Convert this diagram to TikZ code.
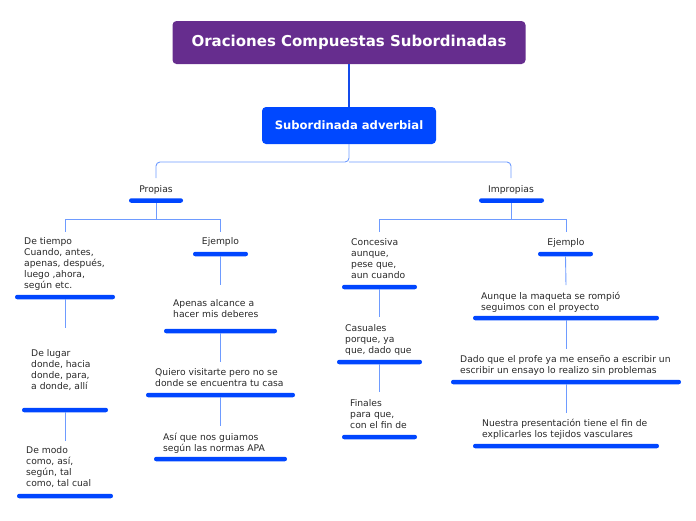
\documentclass[tikz,border=0pt]{standalone}
\usepackage{fontspec}
\setmainfont{DejaVu Sans}
\usepackage{tikz}

\definecolor{titlepurple}{RGB}{102,45,142}
\definecolor{subblue}{RGB}{0,72,255}
\definecolor{barblue}{RGB}{0,70,255}
\definecolor{linkblue}{RGB}{110,155,255}
\definecolor{mainblue}{RGB}{20,75,235}
\definecolor{txtgray}{RGB}{40,40,40}

\tikzset{
  leaf/.style={anchor=north west,inner sep=0,align=left,text=txtgray,font=\fontsize{9.2}{11}\selectfont},
  head/.style={anchor=north,inner sep=0,text=txtgray,font=\fontsize{9.2}{11}\selectfont},
  ulbar/.style={draw=none,fill=barblue,rounded corners=2.2pt,minimum height=4.5pt,inner sep=0},
  conn/.style={draw=linkblue,line width=0.9pt},
}

\begin{document}
\begin{tikzpicture}[x=1pt,y=-1pt]
\useasboundingbox (0,0) rectangle (696,520);

% top boxes
\node[fill=titlepurple,rounded corners=4pt,minimum width=353,minimum height=43,text=white,font=\fontsize{15}{18}\bfseries\selectfont] (title) at (349,42.5) {Oraciones Compuestas Subordinadas};
\node[fill=subblue,rounded corners=4pt,minimum width=174,minimum height=37,text=white,font=\fontsize{11.6}{14}\bfseries\selectfont] (sub) at (349,125.5) {Subordinada adverbial};
\draw[draw=mainblue,line width=1.2pt] (title) -- (sub);

\coordinate (subFork) at (349,162);
\coordinate (propIn) at (156,178);
\coordinate (impIn) at (511,178);
\draw[conn,rounded corners=4pt] (sub.south) -- (subFork) -| (propIn);
\draw[conn,rounded corners=4pt] (subFork) -| (impIn);

% Propias
\node[head] (prop) at (156,185) {Propias};
\node[ulbar,minimum width=54] (propBar) at (156,200.5) {};
\coordinate (propFork) at (156,219);
\coordinate (tiempoIn) at (65,232);
\coordinate (ejPropIn) at (220.5,232);
\draw[conn] (propBar.south) -- (propFork) -| (tiempoIn);
\draw[conn] (propFork) -| (ejPropIn);

\node[leaf] (tiempo) at (24,237.5) {De tiempo\\Cuando, antes,\\apenas, después,\\luego ,ahora,\\según etc.};
\node[ulbar,minimum width=100] (tiempoBar) at (65,297) {};
\coordinate (lugarIn) at (65,328);
\draw[conn] (tiempoBar.south) -- (lugarIn);

\node[leaf] (lugar) at (31,349.5) {De lugar\\donde, hacia\\donde, para,\\a donde, allí};
\node[ulbar,minimum width=86] (lugarBar) at (65,410) {};
\coordinate (modoIn) at (65,441);
\draw[conn] (lugarBar.south) -- (modoIn);

\node[leaf] (modo) at (26,446.5) {De modo\\como, así,\\según, tal\\como, tal cual};
\node[ulbar,minimum width=96] (modoBar) at (65,496) {};

\node[head] (ejProp) at (220.5,237.5) {Ejemplo};
\node[ulbar,minimum width=55] (ejPropBar) at (220.5,254) {};
\coordinate (apenasIn) at (220.5,285);
\draw[conn] (ejPropBar.south) -- (apenasIn);

\node[leaf] (apenas) at (173,299.5) {Apenas alcance a\\hacer mis deberes};
\node[ulbar,minimum width=113] (apenasBar) at (220.5,331) {};
\coordinate (quieroIn) at (220.5,362);
\draw[conn] (apenasBar.south) -- (quieroIn);

\node[leaf] (quiero) at (155,368.5) {Quiero visitarte pero no se\\donde se encuentra tu casa};
\node[ulbar,minimum width=149] (quieroBar) at (220.5,395) {};
\coordinate (asiIn) at (220.5,426);
\draw[conn] (quieroBar.south) -- (asiIn);

\node[leaf] (asi) at (163,432.5) {Así que nos guiamos\\según las normas APA};
\node[ulbar,minimum width=133] (asiBar) at (220.5,459) {};

% Impropias
\node[head] (imp) at (511,185) {Impropias};
\node[ulbar,minimum width=65] (impBar) at (511.5,200.5) {};
\coordinate (impFork) at (511.5,219);
\coordinate (concIn) at (379.5,232);
\coordinate (ejImpIn) at (566,232);
\draw[conn] (impBar.south) -- (impFork) -| (concIn);
\draw[conn] (impFork) -| (ejImpIn);

\node[leaf] (conc) at (351,238.5) {Concesiva\\aunque,\\pese que,\\aun cuando};
\node[ulbar,minimum width=75] (concBar) at (379.5,287) {};
\coordinate (casIn) at (379.5,317);
\draw[conn] (concBar.south) -- (casIn);

\node[leaf] (cas) at (345,324.5) {Casuales\\porque, ya\\que, dado que};
\node[ulbar,minimum width=85] (casBar) at (379.5,362) {};
\coordinate (finIn) at (379.5,392);
\draw[conn] (casBar.south) -- (finIn);

\node[leaf] (fin) at (350,399.5) {Finales\\para que,\\con el fin de};
\node[ulbar,minimum width=75] (finBar) at (379.5,437) {};

\node[head] (ejImp) at (566,238.5) {Ejemplo};
\node[ulbar,minimum width=55] (ejImpBar) at (565.5,254) {};
\coordinate (aunqueIn) at (566,285);
\draw[conn] (ejImpBar.south) -- (aunqueIn);

\node[leaf] (aunque) at (481,291.5) {Aunque la maqueta se rompió\\seguimos con el proyecto};
\node[ulbar,minimum width=186] (aunqueBar) at (566,318) {};
\coordinate (dadoIn) at (566,349);
\draw[conn] (aunqueBar.south) -- (dadoIn);

\node[leaf] (dado) at (460,355.5) {Dado que el profe ya me enseño a escribir un\\escribir un ensayo lo realizo sin problemas};
\node[ulbar,minimum width=230] (dadoBar) at (566,382) {};
\coordinate (nuestraIn) at (566,413);
\draw[conn] (dadoBar.south) -- (nuestraIn);

\node[leaf] (nuestra) at (482,418.5) {Nuestra presentación tiene el fin de\\explicarles los tejidos vasculares};
\node[ulbar,minimum width=186] (nuestraBar) at (566,446) {};
\end{tikzpicture}
\end{document}
